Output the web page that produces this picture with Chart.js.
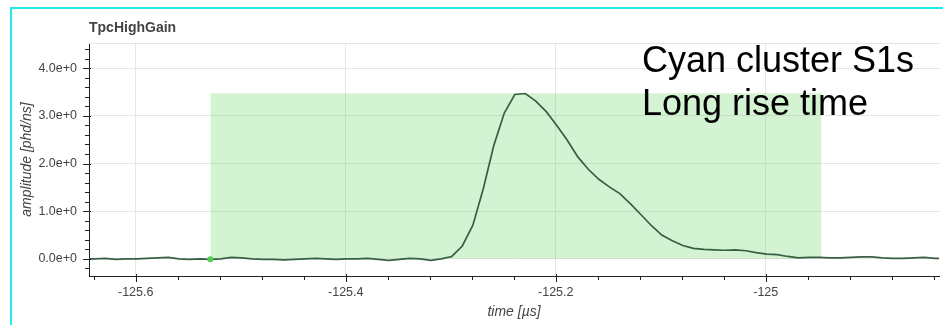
<!DOCTYPE html>
<html>
<head>
<meta charset="utf-8">
<title>TpcHighGain</title>
<script src="https://cdn.jsdelivr.net/npm/chart.js@4/dist/chart.umd.min.js"></script>
<style>
  html, body { margin: 0; padding: 0; background: #fff; overflow: hidden; }
  #wrap { position: relative; width: 943px; height: 325px; }
  #frame {
    position: absolute; left: 10px; top: 7px; width: 2000px; height: 2000px;
    border-left: 2px solid #22eaf0; border-top: 2px solid #22eaf0;
    pointer-events: none;
  }
  canvas { display: block; }
</style>
</head>
<body>
<div id="wrap">
  <canvas id="c" width="943" height="325"></canvas>
  <div id="frame"></div>
</div>
<script>
// Sample times of the digitised waveform (µs, 10 ns samples)
const times = [
  -125.649, -125.639, -125.629, -125.619, -125.609, -125.599, -125.589, -125.579, -125.569, -125.559,
  -125.549, -125.539, -125.529, -125.519, -125.509, -125.499, -125.489, -125.479, -125.469, -125.459,
  -125.449, -125.439, -125.429, -125.419, -125.409, -125.399, -125.389, -125.379, -125.369, -125.359,
  -125.349, -125.339, -125.329, -125.319, -125.309, -125.299, -125.289, -125.279, -125.269, -125.259,
  -125.249, -125.239, -125.229, -125.219, -125.209, -125.199, -125.189, -125.179, -125.169, -125.159,
  -125.149, -125.139, -125.129, -125.119, -125.109, -125.099, -125.089, -125.079, -125.069, -125.059,
  -125.049, -125.039, -125.029, -125.019, -125.009, -124.999, -124.989, -124.979, -124.969, -124.959,
  -124.949, -124.939, -124.929, -124.919, -124.909, -124.899, -124.889, -124.879, -124.869, -124.859,
  -124.849, -124.839, -124.829
];

// Amplitude per sample (phd/ns)
const amplitude = [
  0.00, 0.00, 0.01, -0.01, 0.00, 0.00, 0.01, 0.02, 0.03, 0.00,
  -0.01, 0.00, -0.01, 0.00, 0.03, 0.02, 0.00, -0.01, -0.01, -0.02,
  -0.01, 0.00, 0.01, 0.00, -0.01, 0.00, 0.00, 0.01, -0.01, -0.03,
  -0.01, 0.01, 0.00, -0.03, 0.00, 0.05, 0.27, 0.70, 1.47, 2.38,
  3.06, 3.45, 3.47, 3.31, 3.09, 2.80, 2.49, 2.14, 1.88, 1.67,
  1.51, 1.37, 1.16, 0.93, 0.70, 0.50, 0.38, 0.28, 0.22, 0.20,
  0.19, 0.18, 0.19, 0.17, 0.13, 0.10, 0.09, 0.05, 0.02, 0.03,
  0.03, 0.02, 0.02, 0.03, 0.04, 0.04, 0.02, 0.01, 0.01, 0.02,
  0.03, 0.01, 0.01
];

// Pulse window (start, end in µs) and its height
const pulseWindowTimes = [-125.529, -124.947];
const pulseWindowHeight = [3.475, 3.475];

// Pulse start marker
const markerTimes = [-125.529];
const markerAmps = [-0.01];

// Axis ticks
const xTickValues = [-125.6, -125.4, -125.2, -125.0];
const xTickLabels = ['-125.6', '-125.4', '-125.2', '-125'];
const yTickValues = [0, 1, 2, 3, 4];
const yTickLabels = ['0.0e+0', '1.0e+0', '2.0e+0', '3.0e+0', '4.0e+0'];

const annotationLines = ['Cyan cluster S1s', 'Long rise time'];

const FONT = '"Liberation Sans", Arial, Helvetica, sans-serif';
const TEXT_GREY = '#444';
const AXIS_COLOR = '#222';

// Light outline along the top of the plot frame
const frameOutline = {
  id: 'frameOutline',
  beforeDatasetsDraw(chart) {
    const { ctx, chartArea } = chart;
    ctx.save();
    ctx.strokeStyle = '#e5e5e5';
    ctx.lineWidth = 1;
    ctx.beginPath();
    ctx.moveTo(chartArea.left, Math.round(chartArea.top) + 0.5);
    ctx.lineTo(chartArea.right, Math.round(chartArea.top) + 0.5);
    ctx.stroke();
    ctx.restore();
  }
};

// Bokeh-style major/minor tick marks
const tickMarks = {
  id: 'tickMarks',
  afterDraw(chart) {
    const { ctx, chartArea, scales: { x, y } } = chart;
    ctx.save();
    ctx.strokeStyle = AXIS_COLOR;
    ctx.lineWidth = 1;
    ctx.beginPath();
    const xStep = 0.04, xMajor = 0.2;
    for (let i = Math.ceil(x.min / xStep - 1e-9); i * xStep <= x.max + 1e-9; i++) {
      const v = i * xStep;
      const major = Math.abs(v / xMajor - Math.round(v / xMajor)) < 1e-6;
      const px = Math.round(x.getPixelForValue(v)) + 0.5;
      ctx.moveTo(px, chartArea.bottom - (major ? 2 : 0));
      ctx.lineTo(px, chartArea.bottom + (major ? 6 : 4));
    }
    const yStep = 0.2, yMajor = 1;
    for (let i = Math.ceil(y.min / yStep - 1e-9); i * yStep <= y.max + 1e-9; i++) {
      const v = i * yStep;
      const major = Math.abs(v / yMajor - Math.round(v / yMajor)) < 1e-6;
      const py = Math.round(y.getPixelForValue(v)) + 0.5;
      ctx.moveTo(chartArea.left + (major ? 2 : 0), py);
      ctx.lineTo(chartArea.left - (major ? 6 : 4), py);
    }
    ctx.stroke();
    ctx.restore();
  }
};

// Slide note written over the plot
const noteText = {
  id: 'noteText',
  afterDraw(chart) {
    const { ctx } = chart;
    ctx.save();
    ctx.font = '36px ' + FONT;
    ctx.fillStyle = '#000';
    ctx.textBaseline = 'alphabetic';
    ctx.textAlign = 'left';
    annotationLines.forEach((line, i) => ctx.fillText(line, 642, 72 + i * 43));
    ctx.restore();
  }
};

new Chart(document.getElementById('c'), {
  type: 'line',
  data: {
    datasets: [
      {
        label: 'pulse start',
        data: markerTimes.map((t, i) => ({ x: t, y: markerAmps[i] })),
        showLine: false,
        pointRadius: 3,
        pointBackgroundColor: '#4fcf4f',
        pointBorderWidth: 0,
        order: 0
      },
      {
        label: 'TpcHighGain',
        data: times.map((t, i) => ({ x: t, y: amplitude[i] })),
        borderColor: '#365f44',
        borderWidth: 1.7,
        pointRadius: 0,
        tension: 0,
        fill: false,
        order: 1
      },
      {
        label: 'pulse window',
        data: pulseWindowTimes.map((t, i) => ({ x: t, y: pulseWindowHeight[i] })),
        borderColor: 'rgba(0,0,0,0)',
        borderWidth: 0,
        pointRadius: 0,
        backgroundColor: 'rgba(110, 215, 110, 0.3)',
        fill: 'origin',
        order: 2
      }
    ]
  },
  options: {
    responsive: false,
    animation: false,
    devicePixelRatio: 1,
    layout: { padding: 0 },
    plugins: {
      legend: { display: false },
      tooltip: { enabled: false },
      title: {
        display: true,
        text: 'TpcHighGain',
        align: 'start',
        fullSize: false,
        color: TEXT_GREY,
        font: { family: FONT, size: 14, weight: 'bold' },
        padding: { top: 19.6, bottom: 6.6 }
      }
    },
    scales: {
      x: {
        type: 'linear',
        min: -125.6445,
        max: -124.835,
        afterBuildTicks: (scale) => { scale.ticks = xTickValues.map(v => ({ value: v })); },
        afterFit: (scale) => { scale.height = 49; },
        grid: { color: '#e6e6e6', drawTicks: false },
        border: { display: true, color: AXIS_COLOR, width: 1 },
        ticks: {
          autoSkip: false,
          maxRotation: 0,
          color: TEXT_GREY,
          padding: 9.5,
          font: { family: FONT, size: 12.5 },
          callback: (v, i) => xTickLabels[i]
        },
        title: {
          display: true,
          text: 'time [µs]',
          color: TEXT_GREY,
          font: { family: FONT, size: 14, style: 'italic' },
          padding: { top: 0, bottom: 4.6 }
        }
      },
      y: {
        type: 'linear',
        min: -0.36,
        max: 4.53,
        afterBuildTicks: (scale) => { scale.ticks = yTickValues.map(v => ({ value: v })); },
        afterFit: (scale) => { scale.width = 89; },
        grid: { color: '#e6e6e6', drawTicks: false },
        border: { display: true, color: AXIS_COLOR, width: 1 },
        ticks: {
          color: TEXT_GREY,
          padding: 12,
          font: { family: FONT, size: 12.5 },
          callback: (v, i) => yTickLabels[i]
        },
        title: {
          display: true,
          text: 'amplitude [phd/ns]',
          color: TEXT_GREY,
          font: { family: FONT, size: 14, style: 'italic' },
          padding: { top: 18.6, bottom: 0 }
        }
      }
    }
  },
  plugins: [frameOutline, tickMarks, noteText]
});
</script>
</body>
</html>
